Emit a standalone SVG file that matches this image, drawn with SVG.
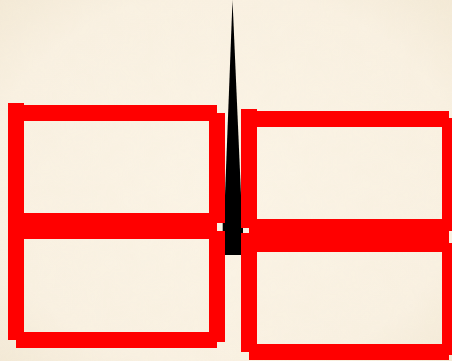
<svg xmlns="http://www.w3.org/2000/svg" width="452" height="361" viewBox="0 0 452 361">
  <defs>
    <radialGradient id="paper" cx="50%" cy="50%" r="75%">
      <stop offset="0" stop-color="#fbf4e6"/>
      <stop offset="0.7" stop-color="#f9f1e2"/>
      <stop offset="1" stop-color="#f2e8d4"/>
    </radialGradient>
    <filter id="grain" x="0" y="0" width="100%" height="100%">
      <feTurbulence type="fractalNoise" baseFrequency="0.05" numOctaves="3" seed="4" result="n"/>
      <feColorMatrix type="matrix" values="0 0 0 0 0.8  0 0 0 0 0.68  0 0 0 0 0.45  0 0 0 0.08 0" in="n"/>
    </filter>
  </defs>
  <style>
    .bar { fill: #ff0000; }
    .spike { fill: #000000; }
  </style>
  <rect width="452" height="361" fill="url(#paper)"/>
  <rect width="452" height="361" filter="url(#grain)" opacity="0.5"/>

  <g id="connectors">
    <polygon class="spike" points="232.5,0 241,195 241,255 225,255 225,195"/>
    <rect class="spike" x="222.7" y="223" width="3" height="8"/>
    <rect class="spike" x="240" y="228" width="3" height="5"/>
  </g>

  <g id="node-top-left">
    <rect class="bar" x="8" y="103" width="16" height="118"/>
    <rect class="bar" x="8" y="105" width="209" height="16"/>
    <rect class="bar" x="209" y="113" width="16" height="110"/>
    <rect class="bar" x="8" y="213" width="209" height="16"/>
  </g>

  <g id="node-bottom-left">
    <rect class="bar" x="8" y="221" width="16" height="119"/>
    <rect class="bar" x="8" y="223" width="209" height="16"/>
    <rect class="bar" x="209" y="231" width="16" height="111"/>
    <rect class="bar" x="16" y="332" width="201" height="16"/>
  </g>

  <g id="node-top-right">
    <rect class="bar" x="241" y="109" width="16" height="119"/>
    <rect class="bar" x="241" y="111" width="208" height="16"/>
    <rect class="bar" x="442" y="118" width="16" height="113"/>
    <rect class="bar" x="249" y="219" width="200" height="16"/>
  </g>

  <g id="node-bottom-right">
    <rect class="bar" x="241" y="233" width="16" height="119"/>
    <rect class="bar" x="249" y="235" width="200" height="17"/>
    <rect class="bar" x="442" y="243" width="16" height="112"/>
    <rect class="bar" x="249" y="344" width="200" height="16"/>
  </g>
</svg>
